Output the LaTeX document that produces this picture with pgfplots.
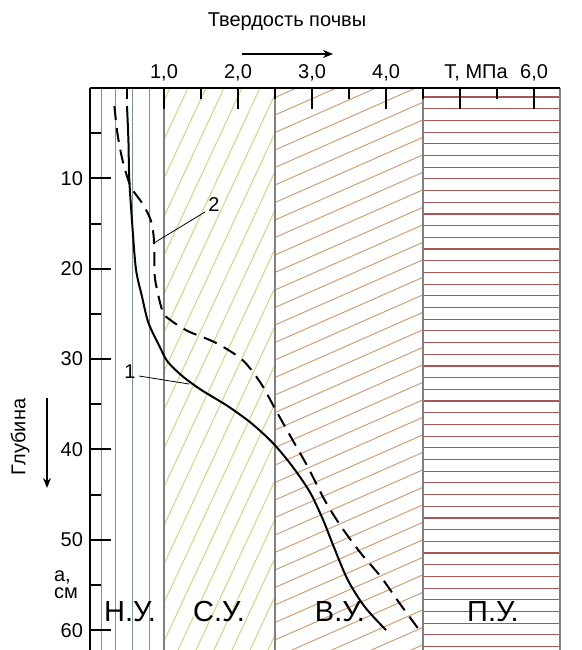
\documentclass[border=0pt]{standalone}
\usepackage{pgfplots}
\pgfplotsset{compat=1.18}
\usepackage{pgfplotstable}
\usepackage{fontspec}
\setmainfont{Liberation Sans}
\usetikzlibrary{arrows.meta}
\definecolor{nuline}{RGB}{120,150,140}
\definecolor{suline}{RGB}{200,215,130}
\definecolor{vuline}{RGB}{205,160,120}
\definecolor{puline}{RGB}{170,85,85}
\definecolor{bord}{RGB}{128,128,128}

\pgfplotstableread{
x y
0.50 2
0.52 6
0.53 10
0.57 15
0.62 20
0.70 23
0.79 26
0.94 28.6
1.05 30.3
1.25 31.9
1.50 33.4
1.86 35.2
2.18 37.1
2.46 39.2
2.68 41.3
2.85 43.2
2.99 45.0
3.15 47.8
3.29 50.7
3.48 54.4
3.71 57.4
4.00 60.0
}\curveone

\pgfplotstableread{
x y
0.33 2
0.37 5
0.44 8
0.55 10.9
0.71 12.8
0.82 14.6
0.86 16.4
0.87 18.7
0.88 21.2
0.98 24.7
1.09 25.7
1.32 26.9
1.70 28.2
2.06 30.1
2.31 32.7
2.50 35.5
2.74 39.0
2.94 41.9
3.17 45.6
3.39 48.5
3.66 51.5
3.93 54.1
4.18 57.0
4.45 60.0
}\curvetwo

\begin{document}
\begin{tikzpicture}
\useasboundingbox (0,0) rectangle (291pt,325pt);
% background zones (axis box: top-left at (45pt,281pt), 37pt per MPa, 4.518pt per cm)
\begin{scope}[shift={(45pt,281pt)}]
  \begin{scope}
    \clip (0,0) rectangle (37pt,-281pt);
    \foreach \v in {0.15,0.35,0.57,0.80}
      \draw[nuline, line width=0.5pt] ({\v*37pt},0) -- ({\v*37pt},-281pt);
  \end{scope}
  \begin{scope}
    \clip (37pt,0) rectangle (92.5pt,-281pt);
    \foreach \c in {40,49,...,232}
      \draw[suline, line width=0.5pt] ({\c*1pt},0) -- ({(\c-131)*1pt},-281pt);
  \end{scope}
  \begin{scope}
    \clip (92.5pt,0) rectangle (166.5pt,-281pt);
    \foreach \b in {4,-4.75,...,-320}
      \draw[vuline, line width=0.5pt] (92.5pt,{\b*1pt}) -- (166.5pt,{(\b+32.6)*1pt});
  \end{scope}
  \begin{scope}
    \clip (166.5pt,0) rectangle (235pt,-281pt);
    \foreach \k in {0,...,47}
      \draw[puline, line width=0.55pt] (166.5pt,{-4.518*(1.0+1.294*\k)*1pt}) -- (235pt,{-4.518*(1.0+1.294*\k)*1pt});
  \end{scope}
  \foreach \xx in {37,92.5,166.5,235}
    \draw[bord, line width=0.6pt] ({\xx*1pt},0) -- ({\xx*1pt},-281pt);
\end{scope}

\begin{axis}[
  at={(45pt,281pt)}, anchor=north west,
  scale only axis, width=235pt, height=281pt,
  xmin=0, xmax=6.35, ymin=0, ymax=62.2,
  y dir=reverse,
  axis x line*=top, axis y line*=left,
  tick align=inside,
  xtick={1,2,3,4,5,6},
  xticklabels={{1,0},{2,0},{3,0},{4,0},{\hspace*{16pt}Т, МПа},{6,0}},
  minor xtick={0.5,1.5,2.5,3.5,4.5,5.5},
  ytick={10,20,30,40,50,60},
  yticklabels={10,20,30,40,50,60},
  minor ytick={5,15,25,35,45,55},
  major tick length=10.5pt, minor tick length=5.5pt,
  every tick/.style={black, line width=1pt},
  axis line style={black, line width=0.8pt},
  ticklabel style={font=\fontsize{10}{12}\selectfont},
  clip=false,
]
\addplot[black, line width=1pt, smooth] table {\curveone};
\addplot[black, line width=1pt, smooth, dash pattern=on 7pt off 4pt] table {\curvetwo};
\end{axis}

% texts
\node[font=\fontsize{10}{12}\selectfont] at (143.5pt,314pt) {Твердость почвы};
\draw[line width=0.6pt, -{Stealth[length=5pt,width=4pt]}] (121pt,298pt) -- (166.5pt,298pt);
\node[font=\fontsize{10}{12}\selectfont, rotate=90] at (10pt,106.5pt) {Глубина};
\draw[line width=0.6pt, -{Stealth[length=5pt,width=4pt]}] (23.5pt,126pt) -- (23.5pt,81pt);
\node[font=\fontsize{10}{8.5}\selectfont, align=left] at (33pt,32.5pt) {а,\\см};
\node[font=\fontsize{14.5}{16}\selectfont] at (65pt,19pt) {Н.У.};
\node[font=\fontsize{14.5}{16}\selectfont] at (109.5pt,19pt) {С.У.};
\node[font=\fontsize{14.5}{16}\selectfont] at (170pt,19pt) {В.У.};
\node[font=\fontsize{14.5}{16}\selectfont] at (246.5pt,19pt) {П.У.};
\node[font=\fontsize{10}{12}\selectfont] at (107pt,222.5pt) {2};
\draw[line width=0.4pt] (102.5pt,219pt) -- (77pt,203.5pt);
\node[font=\fontsize{10}{12}\selectfont] at (65pt,139pt) {1};
\draw[line width=0.4pt] (69.5pt,137pt) -- (94.5pt,133pt);
\end{tikzpicture}
\end{document}
